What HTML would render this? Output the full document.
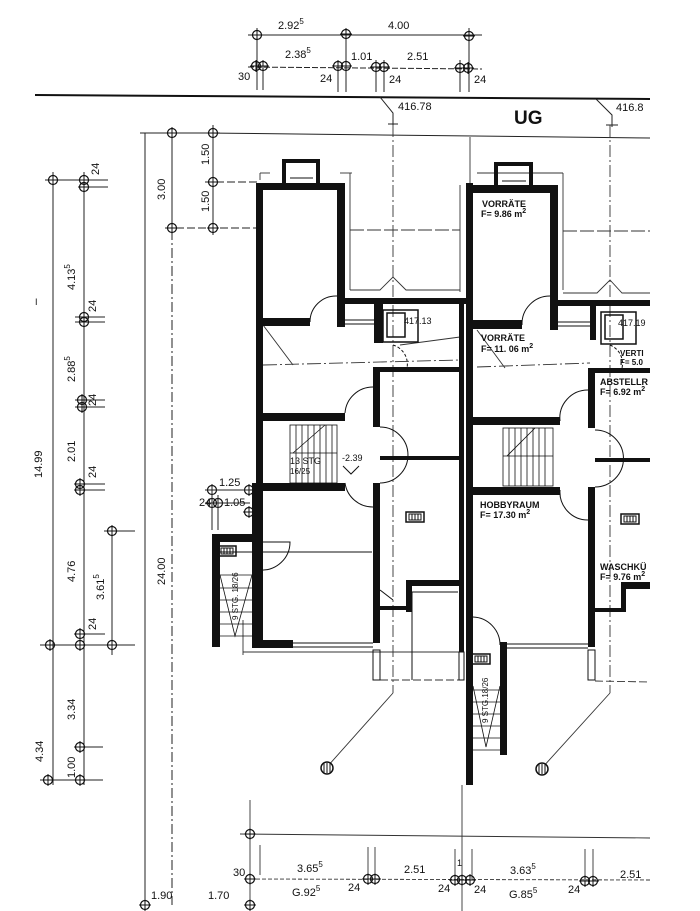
<!DOCTYPE html>
<html><head><meta charset="utf-8"><style>
html,body{margin:0;padding:0;background:#fff;}
svg{display:block;}
text{font-family:"Liberation Sans","DejaVu Sans",sans-serif;fill:#111;}
</style></head><body>
<svg width="700" height="911" viewBox="0 0 700 911" xmlns="http://www.w3.org/2000/svg">
<defs>
<g id="c"><circle r="4.5" fill="none" stroke="#111" stroke-width="1.2"/><line x1="-6" y1="0" x2="6" y2="0" stroke="#111" stroke-width="1"/><line x1="0" y1="-6" x2="0" y2="6" stroke="#111" stroke-width="1"/></g>
<g id="rad"><rect x="-9" y="-5" width="18" height="10" fill="none" stroke="#111" stroke-width="1.5"/><rect x="-6" y="-3" width="12" height="6" fill="none" stroke="#111" stroke-width="1"/><line x1="-3" y1="-3" x2="-3" y2="3" stroke="#111"/><line x1="0" y1="-3" x2="0" y2="3" stroke="#111"/><line x1="3" y1="-3" x2="3" y2="3" stroke="#111"/></g>
</defs>

<g stroke="#222" stroke-width="1" fill="none">
<line x1="248" y1="35" x2="482" y2="35"/>
<line x1="248" y1="67" x2="482" y2="69" stroke-dasharray="6,2"/>
<line x1="257" y1="28" x2="257" y2="90"/><line x1="263" y1="60" x2="263" y2="90"/>
<line x1="338" y1="60" x2="338" y2="92"/><line x1="346" y1="28" x2="346" y2="92"/>
<line x1="376" y1="60" x2="376" y2="92"/><line x1="384" y1="60" x2="384" y2="92"/>
<line x1="460" y1="60" x2="460" y2="92"/><line x1="469" y1="28" x2="469" y2="92"/>
</g>
<use href="#c" x="257" y="35"/><use href="#c" x="346" y="34"/><use href="#c" x="469" y="36"/>
<use href="#c" x="256" y="66"/><use href="#c" x="263" y="66"/><use href="#c" x="338" y="66"/><use href="#c" x="346" y="66"/>
<use href="#c" x="376" y="67"/><use href="#c" x="384" y="67"/><use href="#c" x="460" y="68"/><use href="#c" x="468" y="68"/>
<g font-size="11">
<text x="278" y="29">2.92<tspan font-size="8" dy="-5">5</tspan></text>
<text x="388" y="29">4.00</text>
<text x="285" y="58">2.38<tspan font-size="8" dy="-5">5</tspan></text>
<text x="351" y="60">1.01</text>
<text x="407" y="60">2.51</text>
<text x="238" y="80">30</text><text x="320" y="82">24</text><text x="389" y="83">24</text><text x="474" y="83">24</text>
</g>

<line x1="35" y1="95" x2="650" y2="99" stroke="#111" stroke-width="2"/>
<text x="398" y="110" font-size="11">416.78</text>
<text x="616" y="111" font-size="11">416.8</text>
<text x="514" y="124" font-size="19" font-weight="bold">UG</text>
<g stroke="#222" stroke-width="1" fill="none">
<polyline points="380,97 393,113 393,125"/><line x1="388" y1="124" x2="398" y2="124"/>
<polyline points="596,99 612,115 612,127"/><line x1="606" y1="125" x2="618" y2="125"/>
</g>

<g stroke="#222" stroke-width="1" fill="none">
<line x1="53" y1="172" x2="53" y2="785"/>
<line x1="84" y1="172" x2="84" y2="785"/>
<line x1="112" y1="525" x2="112" y2="655"/>
<line x1="45" y1="180" x2="108" y2="180"/><line x1="78" y1="187" x2="108" y2="187"/>
<line x1="75" y1="317" x2="105" y2="317"/><line x1="75" y1="322" x2="105" y2="322"/>
<line x1="75" y1="400" x2="105" y2="400"/><line x1="75" y1="407" x2="105" y2="407"/>
<line x1="75" y1="484" x2="105" y2="484"/><line x1="75" y1="490" x2="105" y2="490"/>
<line x1="104" y1="531" x2="135" y2="531"/>
<line x1="40" y1="645" x2="135" y2="645"/><line x1="75" y1="634" x2="105" y2="634"/>
<line x1="75" y1="747" x2="103" y2="747"/>
<line x1="40" y1="780" x2="103" y2="780"/>
<line x1="145" y1="133" x2="145" y2="905"/>
<line x1="140" y1="133" x2="220" y2="133"/>
<line x1="172" y1="133" x2="172" y2="230"/>
<line x1="172" y1="230" x2="172" y2="905" stroke-dasharray="10,3,2,3"/>
<line x1="213" y1="125" x2="213" y2="235"/>
<line x1="165" y1="228" x2="258" y2="228" stroke-dasharray="8,3"/>
<line x1="205" y1="182" x2="258" y2="182" stroke-dasharray="8,3"/>
<line x1="205" y1="133" x2="650" y2="138"/>
</g>
<use href="#c" x="53" y="180"/><use href="#c" x="84" y="180"/><use href="#c" x="84" y="187"/>
<use href="#c" x="84" y="317"/><use href="#c" x="84" y="322"/><use href="#c" x="82" y="400"/><use href="#c" x="82" y="407"/>
<use href="#c" x="80" y="484"/><use href="#c" x="80" y="490"/><use href="#c" x="112" y="531"/>
<use href="#c" x="50" y="645"/><use href="#c" x="80" y="634"/><use href="#c" x="80" y="645"/><use href="#c" x="112" y="645"/>
<use href="#c" x="80" y="747"/><use href="#c" x="48" y="780"/><use href="#c" x="80" y="780"/>
<use href="#c" x="172" y="133"/><use href="#c" x="213" y="133"/><use href="#c" x="213" y="182"/><use href="#c" x="172" y="228"/><use href="#c" x="213" y="228"/>
<g font-size="11">
<text transform="translate(42,478) rotate(-90)">14.99</text>
<text transform="translate(75,290) rotate(-90)">4.13<tspan font-size="8" dy="-5">5</tspan></text>
<text transform="translate(75,382) rotate(-90)">2.88<tspan font-size="8" dy="-5">5</tspan></text>
<text transform="translate(75,462) rotate(-90)">2.01</text>
<text transform="translate(75,582) rotate(-90)">4.76</text>
<text transform="translate(104,600) rotate(-90)">3.61<tspan font-size="8" dy="-5">5</tspan></text>
<text transform="translate(75,720) rotate(-90)">3.34</text>
<text transform="translate(75,778) rotate(-90)">1.00</text>
<text transform="translate(43,762) rotate(-90)">4.34</text>
<text transform="translate(99,175) rotate(-90)">24</text>
<text transform="translate(96,312) rotate(-90)">24</text>
<text transform="translate(96,406) rotate(-90)">24</text>
<text transform="translate(96,478) rotate(-90)">24</text>
<text transform="translate(96,630) rotate(-90)">24</text>
<text transform="translate(165,585) rotate(-90)">24.00</text>
<text transform="translate(165,200) rotate(-90)">3.00</text>
<text transform="translate(209,165) rotate(-90)">1.50</text>
<text transform="translate(209,212) rotate(-90)">1.50</text>
<text x="35" y="305" font-size="9">I</text>
<text x="219" y="486">1.25</text>
<text x="199" y="506">24</text>
<text x="224" y="506">1.05</text>
</g>
<use href="#c" x="212" y="490"/><use href="#c" x="212" y="503"/><use href="#c" x="218" y="503"/>
<use href="#c" x="249" y="490"/><use href="#c" x="249" y="512"/>
<g stroke="#222" fill="none"><line x1="205" y1="490" x2="250" y2="490"/><line x1="205" y1="503" x2="250" y2="503"/><line x1="212" y1="485" x2="212" y2="530"/><line x1="218" y1="495" x2="218" y2="530"/></g>

<g stroke="#333" stroke-width="0.9" fill="none">
<line x1="393" y1="125" x2="393" y2="693" stroke-dasharray="12,3,2,3"/>
<line x1="610" y1="125" x2="610" y2="693" stroke-dasharray="12,3,2,3"/>
<line x1="470" y1="137" x2="470" y2="300"/>
<line x1="350" y1="173" x2="350" y2="290"/><line x1="340" y1="173" x2="352" y2="173"/>
<line x1="260" y1="173" x2="270" y2="173"/><line x1="260" y1="173" x2="260" y2="180"/>
<line x1="460" y1="185" x2="460" y2="292"/>
<polyline points="350,290 380,290 393,277 406,290 460,290"/>
<line x1="350" y1="230" x2="460" y2="230" stroke-dasharray="14,3"/>
<line x1="477" y1="173" x2="563" y2="173"/><line x1="563" y1="173" x2="563" y2="290"/>
<line x1="563" y1="231" x2="650" y2="231" stroke-dasharray="14,3"/>
<polyline points="563,293 597,293 610,280 622,293 650,293"/>
<line x1="263" y1="365" x2="460" y2="360" stroke-dasharray="14,3,2,3"/>
<line x1="263" y1="325" x2="293" y2="365"/>
<line x1="400" y1="345" x2="460" y2="337"/>
<line x1="477" y1="367" x2="590" y2="363" stroke-dasharray="14,3,2,3"/>
<line x1="477" y1="330" x2="505" y2="368"/>
<line x1="380" y1="680" x2="460" y2="680" stroke-dasharray="8,3"/>
<line x1="595" y1="681" x2="650" y2="682" stroke-dasharray="8,3"/>
<polyline points="393,693 327,767"/>
<polyline points="610,693 542,768"/>
<line x1="462" y1="785" x2="462" y2="911"/>
<line x1="240" y1="834" x2="650" y2="838"/>
<line x1="250" y1="879" x2="650" y2="880" stroke-dasharray="4,2"/>
<line x1="250" y1="800" x2="250" y2="905"/>
<line x1="260" y1="845" x2="260" y2="875"/>
<line x1="368" y1="847" x2="368" y2="880"/><line x1="375" y1="847" x2="375" y2="880"/>
<line x1="455" y1="849" x2="455" y2="880"/><line x1="472" y1="849" x2="472" y2="880"/>
<line x1="585" y1="849" x2="585" y2="880"/><line x1="593" y1="849" x2="593" y2="880"/>
<line x1="243" y1="652" x2="460" y2="652"/>
<line x1="243" y1="620" x2="243" y2="655"/>
</g>
<circle cx="327" cy="768" r="6" fill="#fff" stroke="#111" stroke-width="1.5"/>
<circle cx="542" cy="769" r="6" fill="#fff" stroke="#111" stroke-width="1.5"/>
<g stroke="#111" stroke-width="1"><line x1="324" y1="763" x2="324" y2="773"/><line x1="327" y1="763" x2="327" y2="773"/><line x1="330" y1="763" x2="330" y2="773"/><line x1="539" y1="764" x2="539" y2="774"/><line x1="542" y1="764" x2="542" y2="774"/><line x1="545" y1="764" x2="545" y2="774"/></g>
<use href="#c" x="250" y="834"/><use href="#c" x="250" y="879"/><use href="#c" x="250" y="905"/>
<use href="#c" x="368" y="879"/><use href="#c" x="375" y="879"/><use href="#c" x="455" y="880"/><use href="#c" x="462" y="880"/><use href="#c" x="470" y="880"/>
<use href="#c" x="585" y="881"/><use href="#c" x="593" y="881"/>
<use href="#c" x="145" y="905"/>
<g font-size="11">
<text x="233" y="876">30</text>
<text x="297" y="872">3.65<tspan font-size="8" dy="-5">5</tspan></text>
<text x="404" y="873">2.51</text>
<text x="510" y="874">3.63<tspan font-size="8" dy="-5">5</tspan></text>
<text x="620" y="878">2.51</text>
<text x="292" y="896">G.92<tspan font-size="8" dy="-5">5</tspan></text>
<text x="348" y="891">24</text><text x="438" y="892">24</text><text x="474" y="893">24</text>
<text x="509" y="898">G.85<tspan font-size="8" dy="-5">5</tspan></text>
<text x="568" y="893">24</text>
<text x="208" y="899">1.70</text><text x="151" y="899">1.90</text>
<text x="457" y="866" font-size="9">1</text>
</g>

<g fill="#111">
<rect x="256" y="183" width="89" height="7"/>
<rect x="256" y="183" width="7" height="460"/>
<rect x="337" y="183" width="8" height="144"/>
<rect x="345" y="298" width="123" height="6"/>
<rect x="263" y="318" width="47" height="8"/>
<rect x="374" y="298" width="9" height="45"/>
<rect x="373" y="367" width="90" height="5"/>
<rect x="373" y="367" width="7" height="60"/>
<rect x="373" y="483" width="7" height="160"/>
<rect x="263" y="413" width="82" height="8"/>
<rect x="380" y="456" width="80" height="4"/>
<rect x="263" y="483" width="82" height="8"/>
<rect x="252" y="483" width="8" height="165"/>
<rect x="252" y="640" width="41" height="8"/>
<rect x="212" y="534" width="8" height="113"/>
<rect x="212" y="534" width="48" height="8"/>
<rect x="407" y="580" width="53" height="6"/>
<rect x="406" y="580" width="6" height="32"/>
<rect x="380" y="606" width="32" height="4"/>
<rect x="459" y="300" width="5" height="352"/>
<rect x="466" y="183" width="7" height="602"/>
<rect x="470" y="185" width="88" height="8"/>
<rect x="550" y="185" width="8" height="145"/>
<rect x="558" y="300" width="92" height="6"/>
<rect x="473" y="320" width="49" height="9"/>
<rect x="590" y="300" width="6" height="40"/>
<rect x="588" y="368" width="62" height="5"/>
<rect x="588" y="368" width="7" height="60"/>
<rect x="588" y="487" width="7" height="160"/>
<rect x="473" y="417" width="87" height="8"/>
<rect x="595" y="458" width="55" height="4"/>
<rect x="473" y="487" width="87" height="8"/>
<rect x="500" y="642" width="7" height="113"/>
<rect x="622" y="582" width="28" height="7"/>
<rect x="621" y="582" width="5" height="30"/>
<rect x="595" y="608" width="30" height="4"/>
</g>
<g fill="none" stroke="#111">
<rect x="284" y="161" width="34" height="24" stroke-width="4"/>
<rect x="496" y="164" width="35" height="23" stroke-width="4"/>
<line x1="290" y1="178" x2="313" y2="178"/><line x1="502" y1="181" x2="526" y2="181"/>
<rect x="383" y="310" width="35" height="32" stroke-width="1.5"/>
<rect x="387" y="313" width="18" height="24" stroke-width="1.5"/>
<rect x="601" y="312" width="35" height="32" stroke-width="1.5"/>
<rect x="605" y="315" width="18" height="24" stroke-width="1.5"/>
<line x1="345" y1="320" x2="374" y2="320"/><line x1="345" y1="324" x2="374" y2="324"/>
<line x1="558" y1="322" x2="590" y2="322"/><line x1="558" y1="326" x2="590" y2="326"/>
<line x1="293" y1="643" x2="373" y2="643"/><line x1="293" y1="647" x2="373" y2="647"/>
<line x1="507" y1="644" x2="588" y2="644"/><line x1="507" y1="648" x2="588" y2="648"/>
<rect x="373" y="650" width="7" height="30" stroke-width="1"/>
<rect x="459" y="652" width="5" height="28" stroke-width="1"/>
<rect x="588" y="650" width="7" height="30" stroke-width="1"/>
<line x1="412" y1="592" x2="458" y2="592"/><line x1="412" y1="592" x2="412" y2="680"/>
<line x1="380" y1="590" x2="393" y2="600"/>
<path d="M310,322 A26,26 0 0 1 337,296" stroke-width="1"/>
<path d="M345,413 A28,28 0 0 1 373,387" stroke-width="1"/>
<path d="M380,427 A28,28 0 0 1 380,483" stroke-width="1"/>
<path d="M345,483 A28,28 0 0 0 373,507" stroke-width="1"/>
<path d="M260,542 L290,542 A28,28 0 0 1 260,570" stroke-width="1"/>
<path d="M522,325 A28,28 0 0 1 550,296" stroke-width="1"/>
<path d="M560,421 A28,28 0 0 1 588,390" stroke-width="1"/>
<path d="M595,430 A28,28 0 0 1 595,487" stroke-width="1"/>
<path d="M560,490 A28,28 0 0 0 588,520" stroke-width="1"/>
<path d="M473,617 A28,28 0 0 1 500,645" stroke-width="1"/>
<path d="M393,345 A20,20 0 0 1 407,368" stroke-width="1" stroke-dasharray="3,2"/>
<path d="M610,345 A20,20 0 0 1 622,368" stroke-width="1" stroke-dasharray="3,2"/>
<line x1="220" y1="552" x2="372" y2="552"/>
<rect x="290" y="425" width="47" height="58" stroke-width="0.8"/>
<g stroke-width="0.8">
<line x1="296" y1="425" x2="296" y2="483"/><line x1="302" y1="425" x2="302" y2="483"/><line x1="308" y1="425" x2="308" y2="483"/><line x1="314" y1="425" x2="314" y2="483"/><line x1="320" y1="425" x2="320" y2="483"/><line x1="326" y1="425" x2="326" y2="483"/><line x1="332" y1="425" x2="332" y2="483"/>
<line x1="290" y1="453" x2="337" y2="453"/><line x1="293" y1="453" x2="325" y2="425"/>
<rect x="503" y="428" width="50" height="58"/>
<line x1="509" y1="428" x2="509" y2="486"/><line x1="515" y1="428" x2="515" y2="486"/><line x1="521" y1="428" x2="521" y2="486"/><line x1="527" y1="428" x2="527" y2="486"/><line x1="533" y1="428" x2="533" y2="486"/><line x1="539" y1="428" x2="539" y2="486"/><line x1="545" y1="428" x2="545" y2="486"/>
<line x1="503" y1="456" x2="553" y2="456"/><line x1="507" y1="456" x2="535" y2="428"/>
<line x1="220" y1="575" x2="252" y2="575"/><line x1="220" y1="588" x2="252" y2="588"/><line x1="220" y1="600" x2="252" y2="600"/><line x1="220" y1="612" x2="252" y2="612"/><line x1="220" y1="624" x2="252" y2="624"/><line x1="220" y1="636" x2="252" y2="636"/>
<polyline points="220,575 235,636 252,575"/>
<line x1="473" y1="690" x2="500" y2="690"/><line x1="473" y1="702" x2="500" y2="702"/><line x1="473" y1="714" x2="500" y2="714"/><line x1="473" y1="726" x2="500" y2="726"/><line x1="473" y1="738" x2="500" y2="738"/><line x1="473" y1="750" x2="500" y2="750"/>
<polyline points="473,686 486,747 500,686"/>
</g>
<polyline points="343,466 351,474 359,466" stroke-width="1"/>
</g>
<use href="#rad" x="415" y="517"/><use href="#rad" x="630" y="519"/><use href="#rad" x="227" y="551"/><use href="#rad" x="481" y="659"/>
<g font-size="9" font-weight="bold">
<text x="482" y="207">VORRÄTE</text>
<text x="481" y="217">F= 9.86 m<tspan font-size="7" dy="-4">2</tspan></text>
<text x="481" y="341">VORRÄTE</text>
<text x="481" y="352">F= 11. 06 m<tspan font-size="7" dy="-4">2</tspan></text>
<text x="600" y="385">ABSTELLR</text>
<text x="600" y="395">F= 6.92 m<tspan font-size="7" dy="-4">2</tspan></text>
<text x="620" y="356" font-size="8">VERTI</text>
<text x="620" y="365" font-size="8">F= 5.0</text>
<text x="480" y="508">HOBBYRAUM</text>
<text x="480" y="518">F= 17.30 m<tspan font-size="7" dy="-4">2</tspan></text>
<text x="600" y="570">WASCHKÜ</text>
<text x="600" y="580">F= 9.76 m<tspan font-size="7" dy="-4">2</tspan></text>
</g>
<g font-size="9">
<text x="404" y="324">417.13</text><text x="618" y="326">417.19</text>
<text x="290" y="464">13 STG</text><text x="290" y="474" font-size="8">16/25</text>
<text x="342" y="461">-2.39</text>
<text transform="translate(238,620) rotate(-90)" font-size="8">9 STG. 18/26</text>
<text transform="translate(488,723) rotate(-90)" font-size="8">9 STG.18/26</text>
</g>
</svg>
</body></html>
